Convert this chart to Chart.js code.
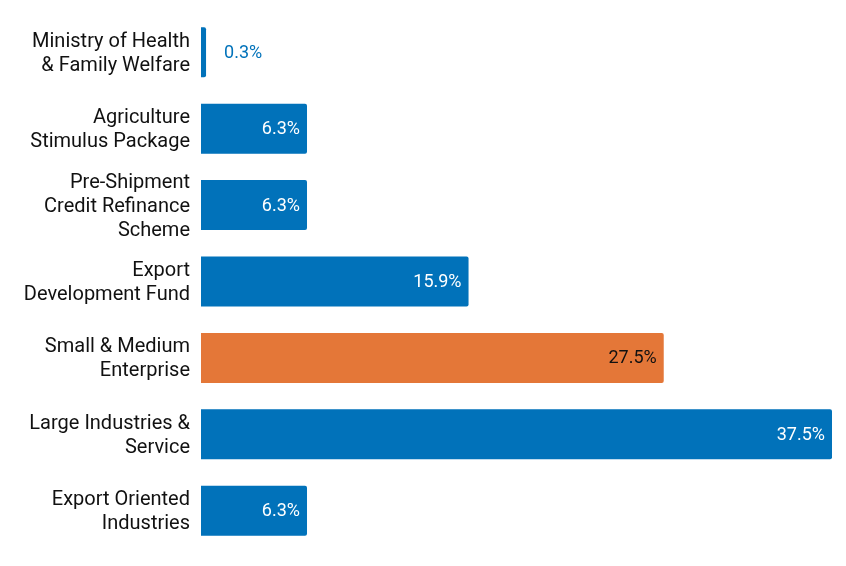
<!DOCTYPE html>
<html>
<head>
<meta charset="utf-8">
<script src="https://cdn.jsdelivr.net/npm/chart.js@4/dist/chart.umd.min.js"></script>
<style>
html,body{margin:0;padding:0;background:#fff;}
#wrap{width:846px;height:566px;position:relative;}
</style>
</head>
<body>
<div id="wrap"><canvas id="c" width="846" height="566"></canvas></div>
<script>
const categories = [
  ["Ministry of Health", "& Family Welfare"],
  ["Agriculture", "Stimulus Package"],
  ["Pre-Shipment", "Credit Refinance", "Scheme"],
  ["Export", "Development Fund"],
  ["Small & Medium", "Enterprise"],
  ["Large Industries &", "Service"],
  ["Export Oriented", "Industries"]
];
const values = [0.3, 6.3, 6.3, 15.9, 27.5, 37.5, 6.3];
const valueLabels = ["0.3%", "6.3%", "6.3%", "15.9%", "27.5%", "37.5%", "6.3%"];
const highlightIndex = 4;

const BLUE = "#0172BA";
const ORANGE = "#E47738";

const labelPlugin = {
  id: "valueLabels",
  afterDatasetsDraw(chart) {
    const ctx = chart.ctx;
    const meta = chart.getDatasetMeta(0);
    ctx.save();
    ctx.font = "18px Roboto";
    ctx.textBaseline = "middle";
    meta.data.forEach((bar, i) => {
      const txt = valueLabels[i];
      const w = ctx.measureText(txt).width;
      const barW = bar.x - bar.base;
      if (barW > w + 16) {
        ctx.textAlign = "right";
        ctx.fillStyle = i === highlightIndex ? "#111" : "#fff";
        ctx.fillText(txt, bar.x - 7, bar.y + 1);
      } else {
        ctx.textAlign = "left";
        ctx.fillStyle = BLUE;
        ctx.fillText(txt, bar.x + 18, bar.y + 1);
      }
    });
    ctx.restore();
  }
};

new Chart(document.getElementById("c"), {
  type: "bar",
  data: {
    labels: categories,
    datasets: [{
      data: values,
      backgroundColor: values.map((v, i) => i === highlightIndex ? ORANGE : BLUE),
      borderRadius: {topLeft: 0, bottomLeft: 0, topRight: 2, bottomRight: 2},
      borderSkipped: false,
      barPercentage: 0.654,
      categoryPercentage: 1.0
    }]
  },
  options: {
    indexAxis: "y",
    responsive: false,
    animation: false,
    devicePixelRatio: 1,
    layout: {padding: {left: 0, right: 14, top: 14, bottom: 17}},
    plugins: {legend: {display: false}, tooltip: {enabled: false}},
    scales: {
      x: {
        display: false,
        min: 0,
        max: 37.5
      },
      y: {
        grid: {display: false, drawTicks: false},
        border: {display: false},
        ticks: {
          color: "#111",
          padding: 11,
          labelOffset: 1.5,
          font: {family: "Roboto", size: 20, lineHeight: 1.2}
        },
        afterFit(scale) {
          scale.width = 201;
          scale.paddingTop = 0;
          scale.paddingBottom = 0;
        }
      }
    }
  },
  plugins: [labelPlugin]
});
</script>
</body>
</html>
